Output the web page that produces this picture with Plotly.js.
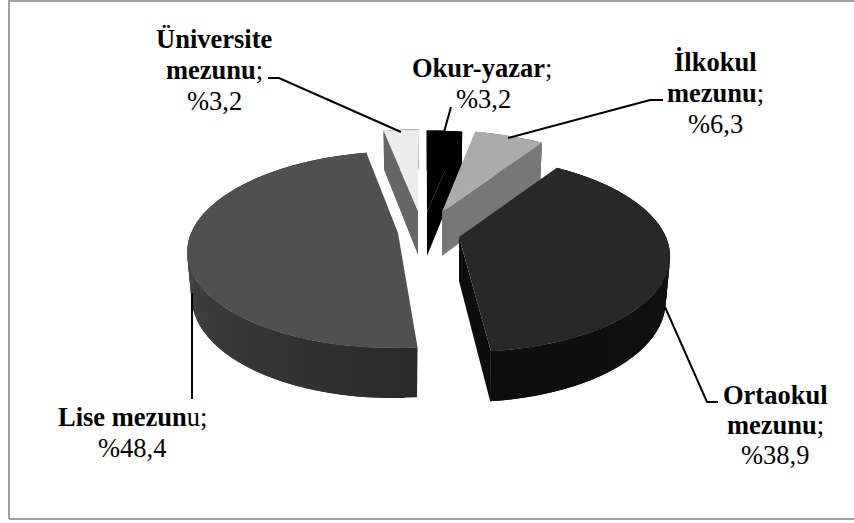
<!DOCTYPE html>
<html>
<head>
<meta charset="utf-8">
<script src="https://cdn.plot.ly/plotly-3.0.1.min.js"></script>
<style>html,body{margin:0;padding:0;background:#fff}</style>
</head>
<body>
<div id="chart" style="width:854px;height:523px"></div>
<script>
// data, clockwise from 12 o'clock
const categories = ["Okur-yazar", "İlkokul mezunu", "Ortaokul mezunu", "Lise mezunu", "Üniversite mezunu"];
const values = [3.2, 6.3, 38.9, 48.4, 3.2];
const valueLabels = ["%3,2", "%6,3", "%38,9", "%48,4", "%3,2"];

// styling and projection
const topColors = ["#000000", "#ababab", "#282828", "#505050", "#ececec"];
const wallFrom = [[0,0,0],[119,119,119],[20,20,20],[74,74,74],[102,102,102]];
const wallTo = [[0,0,0],[119,119,119],[14,14,14],[42,42,42],[102,102,102]];
const edgeColors = ["#000000", "#777777", "#0d0d0d", null, "#666666"];
const edgeAtEnd = [true, true, true, null, false];
const apexX = [427, 442, 459, 398, 418];
const apexY = [212, 212, 237, 233, 211];
const drawOrder = [4, 0, 1, 3, 2];
const vanishX = 425, R = 207, RY = 95.5, PERSP = 0.17, DEPTH = 44, BOTTOM_SCALE = 0.98;

function project(i, deg, r, down) {
  const rr = down ? r * BOTTOM_SCALE : r;
  const a = deg * Math.PI / 180, u = Math.sin(a) * rr, v = Math.cos(a) * rr;
  const s = 1 / (1 + PERSP * v);
  return [vanishX + (apexX[i] - vanishX + R * u) * s, apexY[i] - RY * v * s + (down ? DEPTH * s : 0)];
}
function poly(pts, color) {
  return {type: "scatter", mode: "lines", x: pts.map(p => p[0]), y: pts.map(p => p[1]),
    fill: "toself", fillcolor: color, line: {color: color, width: 0}, hoverinfo: "skip", showlegend: false};
}
let cum = 0;
const spans = values.map(v => { const s = [cum * 3.6, (cum + v) * 3.6]; cum += v; return s; });
const traces = [];
drawOrder.forEach(i => {
  const [a0, a1] = spans[i];
  const steps = Math.max(2, Math.round((a1 - a0) / 3));
  const at = k => a0 + (a1 - a0) * Math.min(k, steps) / steps;
  // outer wall strips, each overlapping the next so no seams show
  for (let k = 0; k < steps; k++) {
    const f = k / steps;
    const g = wallFrom[i].map((c, j) => Math.round(wallTo[i][j] + (c - wallTo[i][j]) * (i === 3 ? Math.min(1, f * 1.6) : i === 2 ? 1 - f : f)));
    traces.push(poly([project(i, at(k), 1, false), project(i, at(k + 1), 1, false), project(i, at(k + 2), 1, false), project(i, at(k + 2), 1, true), project(i, at(k + 1), 1, true), project(i, at(k), 1, true), project(i, at(k), 1, false)], `rgb(${g.join(",")})`));
  }
  // radial wall
  if (edgeColors[i]) {
    const e = edgeAtEnd[i] ? a1 : a0;
    traces.push(poly([project(i, e, 0, false), project(i, e, 1, false), project(i, e, 1, true), project(i, e, 0, true), project(i, e, 0, false)], edgeColors[i]));
  }
  // top face
  const pts = [project(i, 0, 0, false)];
  for (let k = 0; k <= steps; k++) pts.push(project(i, at(k), 1, false));
  pts.push(project(i, 0, 0, false));
  const t = poly(pts, topColors[i]);
  t.name = categories[i];
  traces.push(t);
});

// labels: [line html, x, y]
const FS = 26.5;
const lines = [
  ["<b>Okur-yazar</b>;", 482, 68], [valueLabels[0], 483, 99],
  ["<b>İlkokul</b>", 715, 62], ["<b>mezunu</b>;", 715, 93], [valueLabels[1], 715, 124],
  ["<b>Ortaokul</b>", 775, 395], ["<b>mezunu</b>;", 775, 425], [valueLabels[2], 775, 455],
  ["<b>Lise mezun</b>u;", 132, 417], [valueLabels[3], 132, 448],
  ["<b>Üniversite</b>", 214, 39], ["<b>mezunu</b>;", 214, 70], [valueLabels[4], 214, 101]
];
const annotations = lines.map(l => ({xref: "x", yref: "y", x: l[1], y: l[2], text: l[0], showarrow: false,
  xanchor: "center", yanchor: "middle", font: {family: "Liberation Serif", size: FS, color: "#000"}}));

const leaders = [
  [[268, 78], [279, 78], [401, 132]],
  [[451, 107], [444, 132]],
  [[663, 100], [650, 100], [508, 138]],
  [[665, 307], [707, 402], [718, 402]],
  [[192, 293], [192, 399]]
];
const shapes = leaders.map(p => ({type: "path", xref: "x", yref: "y",
  path: "M" + p.map(q => q.join(",")).join("L"), line: {color: "#000", width: 2}}));
[[[9, 519], [9, 1], [854, 1]], [[9, 519], [854, 519]]].forEach(p => shapes.push({type: "path", xref: "x", yref: "y",
  path: "M" + p.map(q => q.join(",")).join("L"), line: {color: "#a0a0a0", width: 2}}));

Plotly.newPlot("chart", traces, {
  width: 854, height: 523, margin: {l: 0, r: 0, t: 0, b: 0},
  paper_bgcolor: "#fff", plot_bgcolor: "#fff", showlegend: false,
  xaxis: {range: [0, 854], visible: false, fixedrange: true},
  yaxis: {range: [523, 0], visible: false, fixedrange: true},
  shapes, annotations, hovermode: false
}, {displayModeBar: false, staticPlot: true});
</script>
</body>
</html>
